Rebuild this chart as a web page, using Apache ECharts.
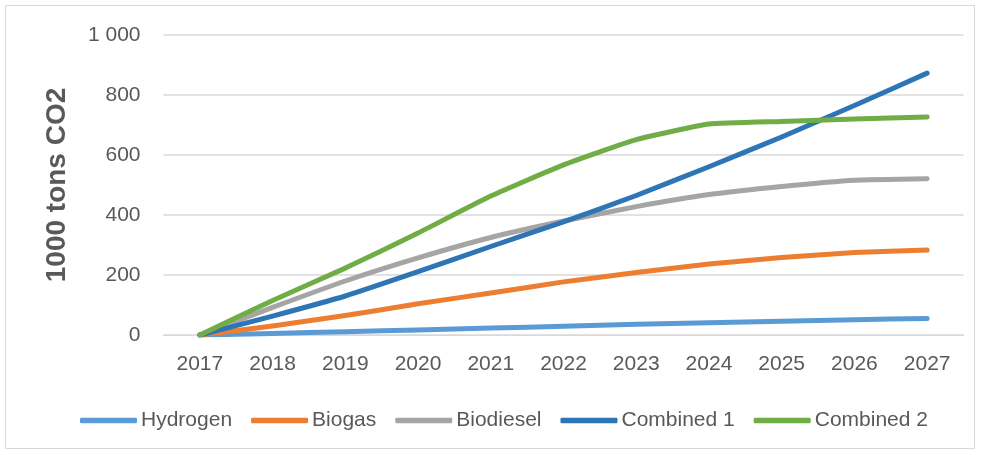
<!DOCTYPE html>
<html>
<head>
<meta charset="utf-8">
<script src="https://cdn.jsdelivr.net/npm/echarts@6/dist/echarts.min.js"></script>
<style>
  html, body { margin: 0; padding: 0; background: #ffffff; }
  #chart { width: 981px; height: 455px; }
</style>
</head>
<body>
<div id="chart"></div>
<script>
// Years on the horizontal axis
const years = ['2017', '2018', '2019', '2020', '2021', '2022', '2023', '2024', '2025', '2026', '2027'];

// Cumulative reduction, 1000 tons CO2
const hydrogen  = [0, 5, 11, 17, 23, 29, 36, 41, 46, 51, 55];
const biogas    = [0, 30, 65, 104, 140, 177, 208, 237, 258, 275, 283];
const biodiesel = [0, 92, 180, 257, 325, 380, 428, 468, 495, 516, 521];
const combined1 = [0, 63, 130, 211, 295, 377, 465, 561, 660, 765, 873];
const combined2 = [0, 115, 223, 340, 463, 567, 651, 703, 712, 720, 727];

const seriesNames  = ['Hydrogen', 'Biogas', 'Biodiesel', 'Combined 1', 'Combined 2'];
const seriesValues = [hydrogen, biogas, biodiesel, combined1, combined2];
const seriesColors = ['#5B9BD5', '#ED7D31', '#A5A5A5', '#2E75B6', '#70AD47'];

const fontFamily = '"Liberation Sans", Arial, sans-serif';
const textColor = '#595959';

const chart = echarts.init(document.getElementById('chart'), null, { renderer: 'canvas' });

chart.setOption({
  animation: false,
  backgroundColor: '#ffffff',
  graphic: [{
    type: 'rect',
    shape: { x: 5.5, y: 5.5, width: 969, height: 443 },
    style: { fill: 'none', stroke: '#d9d9d9', lineWidth: 1 },
    silent: true,
    z: -1
  }],
  grid: { left: 163.5, right: 17.5, top: 35, bottom: 120 },
  legend: {
    data: seriesNames,
    top: 405,
    left: 75,
    itemWidth: 57,
    itemHeight: 5.5,
    itemGap: 19,
    icon: 'roundRect',
    textStyle: { fontFamily: fontFamily, fontSize: 21, color: textColor, padding: [0, 0, 0, -1] }
  },
  xAxis: {
    type: 'category',
    data: years,
    boundaryGap: true,
    axisLine: { show: true, lineStyle: { color: '#d9d9d9', width: 1 } },
    axisTick: { show: false },
    axisLabel: { fontFamily: fontFamily, fontSize: 21, color: textColor, margin: 19 }
  },
  yAxis: {
    type: 'value',
    min: 0,
    max: 1000,
    interval: 200,
    name: '1000 tons CO2',
    nameLocation: 'middle',
    nameGap: 92,
    nameRotate: 90,
    nameTextStyle: { fontFamily: fontFamily, fontSize: 28, fontWeight: 'bold', color: textColor },
    axisLine: { show: false },
    axisTick: { show: false },
    splitLine: { lineStyle: { color: '#d9d9d9', width: 1.5 } },
    axisLabel: {
      fontFamily: fontFamily, fontSize: 21, color: textColor, margin: 23,
      formatter: v => v >= 1000 ? String(v).replace(/\B(?=(\d{3})+(?!\d))/g, ' ') : String(v)
    }
  },
  series: seriesNames.map((name, i) => ({
    name: name,
    type: 'line',
    data: seriesValues[i],
    symbol: 'none',
    smooth: 0.15,
    lineStyle: { color: seriesColors[i], width: 5, cap: 'round', join: 'round' },
    itemStyle: { color: seriesColors[i] },
    emphasis: { disabled: true }
  }))
});
</script>
</body>
</html>
